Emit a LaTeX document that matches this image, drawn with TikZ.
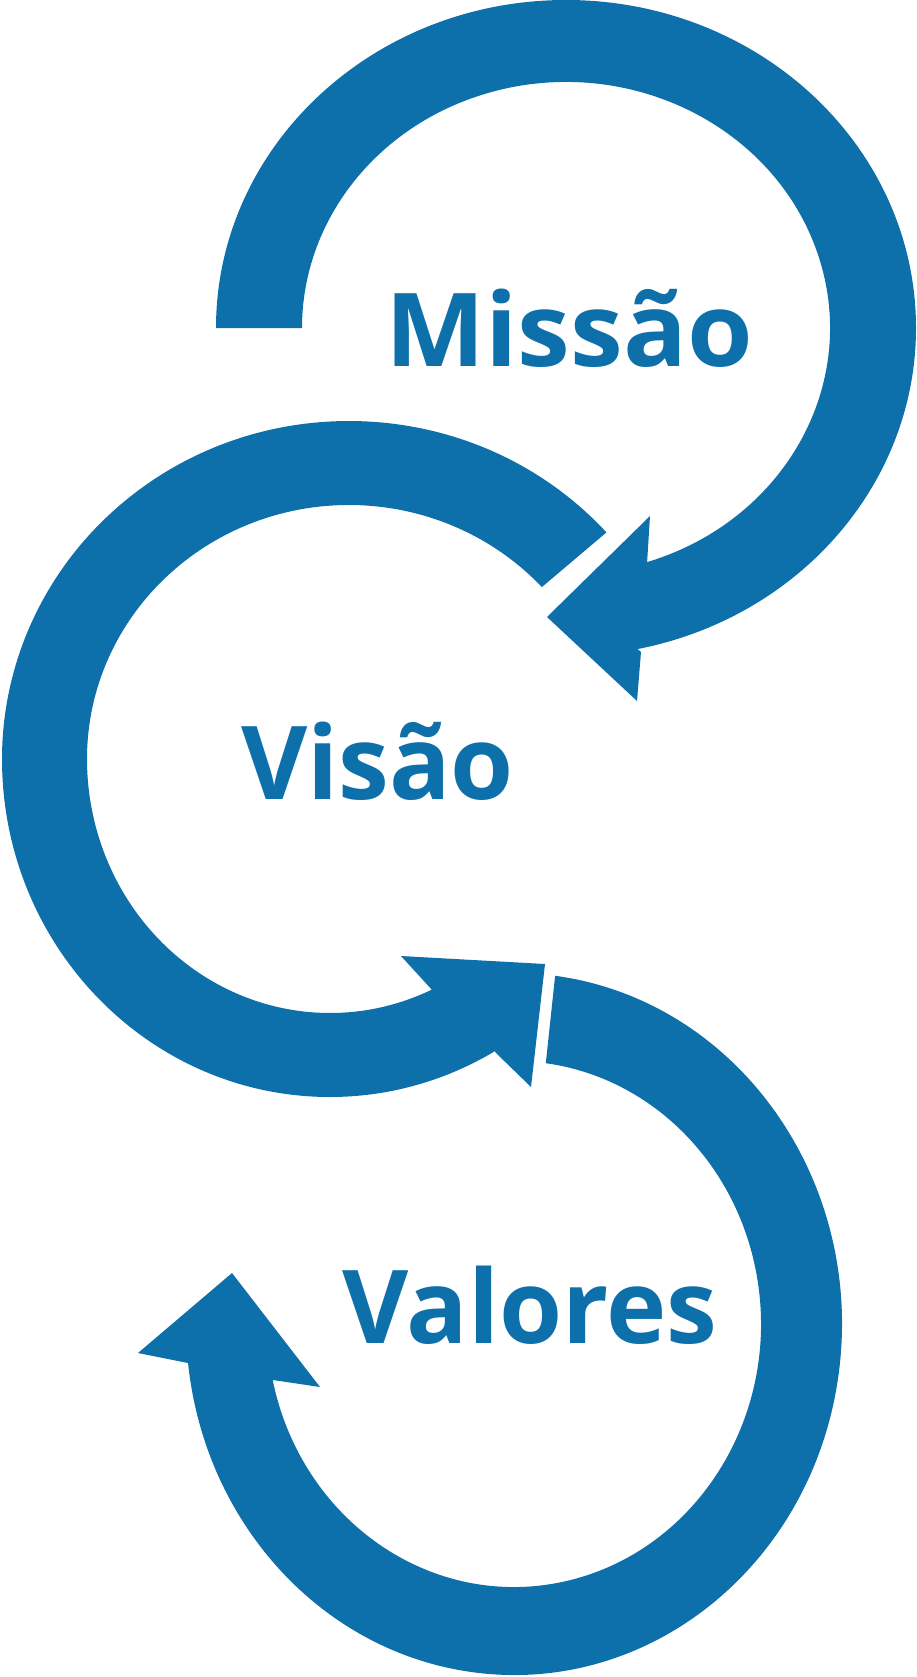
\documentclass[tikz,border=0pt]{standalone}
\usepackage{fontspec}
\setmainfont{Open Sans}
\definecolor{mvblue}{RGB}{14,112,171}
\tikzset{
  band/.style={fill=mvblue},
  label/.style={text=mvblue, inner sep=0pt, anchor=base west, font=\bfseries\fontsize{102}{102}\selectfont}
}
\begin{document}
\begin{tikzpicture}[x=1pt,y=1pt]
\useasboundingbox (0,0) rectangle (917,-1677);
% Arc 1 (Missao)
\fill[band] (216,-328)
  arc[start angle=180,end angle=-78.2,x radius=350pt,y radius=328pt]
  -- (641,-652) -- (637,-701) -- (547,-617) -- (650,-516) -- (647,-564)
  -- ([shift={(566,-328)}]-72.3:264pt and 246pt)
  arc[start angle=-72.3,end angle=180,x radius=264pt,y radius=246pt]
  -- cycle;
% Arc 2 (Visao)
\fill[band] ([shift={(349,-759)}]42.1:347pt and 338pt)
  arc[start angle=42.1,end angle=180,x radius=347pt,y radius=338pt]
  arc[start angle=180,end angle=300.2,x radius=328pt,y radius=338pt]
  -- (496,-1053) -- (531,-1087) -- (545,-964) -- (401,-956) -- (433,-991)
  -- ([shift={(330,-759)}]294.9:243pt and 254pt)
  arc[start angle=294.9,end angle=180,x radius=243pt,y radius=254pt]
  arc[start angle=180,end angle=42.6,x radius=262pt,y radius=254pt]
  -- cycle;
% Arc 3 (Valores)
\fill[band] ([shift={(514,-1324)}]82.8:328pt and 351pt)
  arc[start angle=82.8,end angle=-173.6,x radius=328pt,y radius=351pt]
  -- (188,-1363) -- (138,-1353) -- (232,-1273) -- (320,-1387) -- (273,-1380)
  -- ([shift={(514,-1324)}]-167.7:247pt and 263pt)
  arc[start angle=-167.7,end angle=82.6,x radius=247pt,y radius=263pt]
  -- cycle;
\node[label, xscale=1.04] (missao) at (385,-366) {Missão};
\node[label] (visao) at (241,-799) {Visão};
\node[label] (valores) at (342,-1343) {Valores};
\end{tikzpicture}
\end{document}
